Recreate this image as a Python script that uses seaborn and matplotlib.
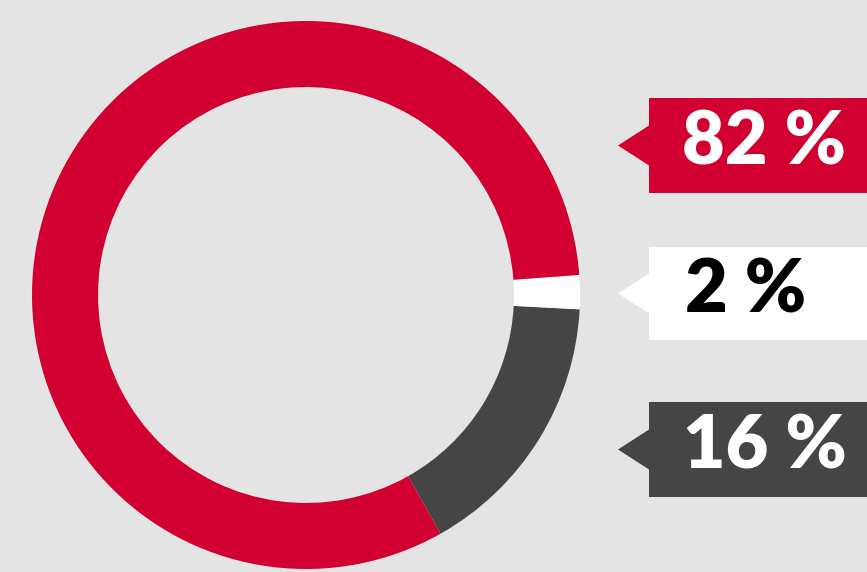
import matplotlib
matplotlib.use("Agg")
import matplotlib.pyplot as plt
from matplotlib.patches import Polygon
import seaborn as sns

sns.set_style("white")

categories = ["Dunkel", "Weiß", "Rot"]
values = [16, 2, 82]
colors = ["#454545", "#ffffff", "#d20030"]
text_colors = ["#ffffff", "#000000", "#ffffff"]
label_text = [f"{v} %" for v in values]

W, H = 867, 572
fig = plt.figure(figsize=(W / 100, H / 100), dpi=100)
fig.patch.set_facecolor("#e4e4e4")

cx, cy, r = 306, 295, 274
ax = fig.add_axes([(cx - r) / W, (H - cy - r) / H, 2 * r / W, 2 * r / H])
ax.pie(values, colors=colors, startangle=-60.6, counterclock=True, radius=1,
       wedgeprops=dict(width=0.241, linewidth=0, antialiased=True))
ax.set_xlim(-1, 1)
ax.set_ylim(-1, 1)
ax.set_aspect("equal")
ax.axis("off")

# label boxes (pixel layout: top, bottom, text centre x)
boxes = {"Rot": (98, 193, 764), "Weiß": (247, 340, 746), "Dunkel": (402, 497, 765)}
tip_x, box_x = 618, 649
for cat, col, tcol, txt in zip(categories, colors, text_colors, label_text):
    top, bot, tx = boxes[cat]
    mid = (top + bot) / 2
    pts = [(box_x, top), (W, top), (W, bot), (box_x, bot),
           (box_x, mid + 20), (tip_x, mid), (box_x, mid - 20)]
    pts = [(x / W, 1 - y / H) for x, y in pts]
    fig.patches.append(Polygon(pts, closed=True, facecolor=col, edgecolor="none",
                               transform=fig.transFigure, figure=fig))
    fig.text(tx / W, 1 - (mid - 2) / H, txt, color=tcol, fontsize=53,
             fontweight="heavy", family=["Lato", "DejaVu Sans"],
             ha="center", va="center")

fig.savefig("out.png", dpi=100, facecolor=fig.get_facecolor())
